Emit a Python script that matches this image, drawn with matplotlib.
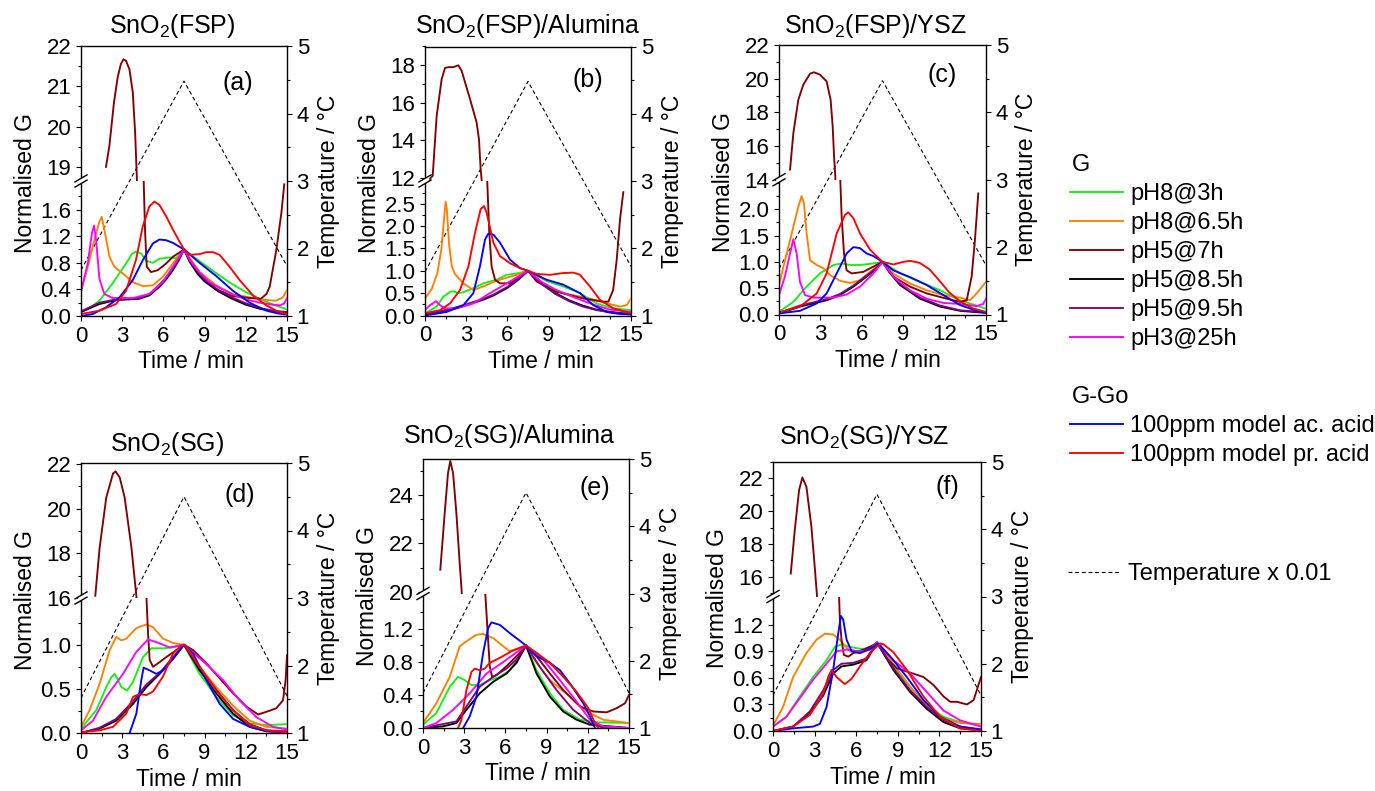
import matplotlib
matplotlib.use("Agg")
import matplotlib.pyplot as plt
from matplotlib.lines import Line2D
from matplotlib.patches import Polygon
from matplotlib.ticker import MultipleLocator, FixedLocator, FormatStrFormatter

plt.rcParams.update({
    "font.family": ["Liberation Sans", "DejaVu Sans"],
    "mathtext.fontset": "custom",
    "mathtext.rm": "Liberation Sans",
    "mathtext.it": "Liberation Sans:italic",
    "mathtext.default": "rm",
    "axes.linewidth": 1.0,
})

# ---------------------------------------------------------------- series
SERIES = ["pH8@3h", "pH8@6.5h", "pH5@7h", "pH5@8.5h", "pH5@9.5h", "pH3@25h",
          "100ppm model ac. acid", "100ppm model pr. acid"]
COLORS = ["#14f014", "#ff8000", "#800000", "#000000", "#800080", "#ff00ff",
          "#0000ff", "#ff0000"]

# temperature programme (x 0.01 degC) : time points and values per panel
TEMP_TIME = [0.0, 7.5, 15.0]
temp_fsp = [1.68, 4.48, 1.74]
temp_fsp_alumina = [1.65, 4.48, 1.73]
temp_fsp_ysz = [1.68, 4.47, 1.73]
temp_sg = [1.52, 4.50, 1.55]
temp_sg_alumina = [1.52, 4.50, 1.52]
temp_sg_ysz = [1.53, 4.52, 1.53]

# normalised conductance curves, (time / min, G) pairs
fsp = {
    "pH8@3h": [(0, 0.06), (0.7, 0.13), (1.34, 0.23), (2.3, 0.49), (3.28, 0.79), (3.7, 0.93), (4.0, 0.97),
               (4.38, 0.94), (4.74, 0.83), (5.23, 0.8), (5.71, 0.86), (6.44, 0.88), (6.93, 0.87), (7.5, 1.0),
               (8, 0.92), (9, 0.77), (10, 0.62), (11, 0.48), (12, 0.36), (13, 0.26), (14, 0.17), (15, 0.1)],
    "pH8@6.5h": [(0, 0.38), (0.49, 0.74), (0.97, 1.14), (1.34, 1.42), (1.51, 1.49), (1.7, 1.3), (2.07, 0.89),
                 (2.43, 0.74), (3.04, 0.64), (3.77, 0.51), (4.5, 0.45), (5.23, 0.46), (5.96, 0.59),
                 (6.69, 0.79), (7.5, 1.0), (8.63, 0.66), (9.85, 0.46), (11.06, 0.33), (12.28, 0.28),
                 (13.5, 0.24), (14.2, 0.23), (14.7, 0.28), (15, 0.39)],
    "pH5@7h": [(1.82, 19.0), (2.07, 19.53), (2.4, 20.6), (2.67, 21.22), (2.9, 21.55), (3.09, 21.67),
               (3.28, 21.63), (3.53, 21.42), (3.77, 20.85), (3.94, 19.86), (4.06, 18.8), (4.2, 16.0),
               (4.5, 2.5), (4.67, 1.25), (4.79, 0.74), (5.1, 0.66), (5.6, 0.69), (6.2, 0.79), (6.69, 0.89),
               (7.5, 1.0), (8.0, 0.82), (8.63, 0.64), (9.85, 0.4), (11.06, 0.3), (12.3, 0.27), (13.1, 0.26),
               (13.5, 0.33), (13.74, 0.44), (14.22, 0.99), (14.59, 1.55), (14.8, 1.98)],
    "pH5@8.5h": [(0, 0.06), (1.34, 0.18), (2.55, 0.24), (3.5, 0.25), (4.25, 0.26), (4.98, 0.31), (5.71, 0.44),
                 (6.2, 0.55), (6.69, 0.69), (7.1, 0.83), (7.5, 1.0), (7.9, 0.82), (8.5, 0.63), (9, 0.52),
                 (10, 0.37), (11, 0.26), (12, 0.17), (13, 0.11), (14, 0.07), (15, 0.05)],
    "pH5@9.5h": [(0, 0.07), (1.34, 0.2), (2.55, 0.25), (3.5, 0.26), (4.25, 0.27), (4.98, 0.33), (5.71, 0.47),
                 (6.2, 0.58), (6.69, 0.71), (7.1, 0.85), (7.5, 1.0), (7.9, 0.84), (8.5, 0.66), (9, 0.55),
                 (10, 0.39), (11, 0.28), (12, 0.19), (13, 0.12), (14, 0.08), (15, 0.06)],
    "pH3@25h": [(0, 0.36), (0.49, 0.79), (0.8, 1.25), (0.95, 1.36), (1.1, 1.14), (1.34, 0.56), (1.7, 0.33),
                (2.3, 0.27), (3.77, 0.27), (4.98, 0.33), (5.96, 0.51), (6.69, 0.74), (7.5, 1.0), (8.0, 0.82),
                (8.63, 0.66), (9.3, 0.52), (10, 0.43), (11, 0.33), (12, 0.25), (13, 0.2), (14, 0.17),
                (14.5, 0.16), (14.8, 0.19), (15, 0.27)],
    "100ppm model ac. acid": [(0, 0.0), (0.85, 0.03), (1.82, 0.13), (2.8, 0.28), (3.77, 0.54), (4.5, 0.84),
                              (5.23, 1.09), (5.71, 1.15), (6.2, 1.14), (6.69, 1.1), (7.1, 1.05), (7.5, 1.0),
                              (8.63, 0.8), (9.85, 0.6), (11.06, 0.38), (12.28, 0.2), (13.5, 0.08),
                              (14.3, 0.04), (15, 0.02)],
    "100ppm model pr. acid": [(0, 0.03), (1.34, 0.08), (2.55, 0.18), (3.28, 0.38), (4.0, 0.84), (4.5, 1.35),
                              (4.98, 1.65), (5.35, 1.72), (5.71, 1.67), (6.2, 1.5), (6.69, 1.3), (7.17, 1.12),
                              (7.5, 1.0), (7.9, 0.92), (8.63, 0.93), (9.12, 0.96), (9.6, 0.96), (10.09, 0.92),
                              (10.82, 0.74), (11.55, 0.54), (12.52, 0.31), (13.5, 0.16), (14.3, 0.07),
                              (15, 0.03)],
}

fsp_alumina = {
    "pH8@3h": [(0, 0.05), (0.85, 0.2), (1.33, 0.42), (1.82, 0.53), (2.1, 0.54), (2.4, 0.5), (2.79, 0.52),
               (3.52, 0.61), (4.25, 0.72), (5.22, 0.8), (5.95, 0.91), (6.67, 0.94), (7.5, 1.0), (8.86, 0.77),
               (10.07, 0.65), (11.29, 0.5), (12.5, 0.27), (13.71, 0.16), (15, 0.12)],
    "pH8@6.5h": [(0, 0.38), (0.5, 0.6), (0.9, 0.95), (1.2, 1.5), (1.4, 2.2), (1.5, 2.55), (1.6, 2.35),
                 (1.75, 1.6), (1.95, 1.1), (2.2, 0.92), (2.79, 0.72), (3.52, 0.57), (4.25, 0.65), (5.22, 0.78),
                 (6.67, 0.91), (7.5, 1.0), (8.86, 0.65), (10.07, 0.5), (12.01, 0.38), (12.99, 0.29),
                 (14.2, 0.2), (14.68, 0.23), (15, 0.38)],
    "pH5@7h": [(0.36, 11.95), (0.56, 12.12), (0.85, 15.3), (1.21, 17.25), (1.46, 17.86), (1.7, 17.9),
               (2.06, 17.9), (2.43, 18.0), (2.67, 17.7), (3.28, 16.2), (3.76, 14.95), (3.93, 14.06),
               (4.05, 12.5), (4.13, 11.86), (4.3, 8.0), (4.52, 3.1), (4.68, 1.85), (4.85, 1.1), (5.1, 0.8),
               (5.46, 0.72), (6.19, 0.72), (6.92, 0.87), (7.5, 1.0), (8.13, 0.76), (9.59, 0.53),
               (11.53, 0.38), (12.99, 0.31), (13.35, 0.31), (13.7, 0.57), (13.96, 1.25), (14.2, 2.15),
               (14.44, 2.76)],
    "pH5@8.5h": [(0, 0.02), (1, 0.08), (2, 0.14), (3, 0.23), (3.5, 0.28), (4.3, 0.36), (5, 0.45), (6, 0.62),
                 (6.8, 0.8), (7.5, 1.0), (8, 0.85), (8.5, 0.72), (9.5, 0.5), (10.5, 0.34), (11.5, 0.22),
                 (12.5, 0.13), (13.5, 0.08), (15, 0.03)],
    "pH5@9.5h": [(0, 0.03), (1, 0.09), (2, 0.16), (3, 0.25), (3.5, 0.3), (4.3, 0.38), (5, 0.47), (6, 0.64),
                 (6.8, 0.82), (7.5, 1.0), (8, 0.84), (8.5, 0.7), (9.5, 0.48), (10.5, 0.32), (11.5, 0.2),
                 (12.5, 0.12), (13.5, 0.07), (15, 0.03)],
    "pH3@25h": [(0, 0.12), (0.36, 0.23), (0.8, 0.32), (1.09, 0.23), (1.46, 0.16), (2.3, 0.16), (3.52, 0.27),
                (4.73, 0.5), (5.95, 0.72), (7.5, 1.0), (8.5, 0.75), (9.5, 0.58), (10.5, 0.45), (11.5, 0.33),
                (12.5, 0.22), (13.5, 0.13), (15, 0.08)],
    "100ppm model ac. acid": [(0, 0.0), (1.58, 0.08), (2.79, 0.23), (3.52, 0.5), (4.0, 1.1), (4.37, 1.7),
                              (4.61, 1.83), (4.98, 1.81), (5.46, 1.63), (6.19, 1.25), (6.92, 1.06), (7.5, 1.0),
                              (8.86, 0.8), (10.07, 0.69), (11.29, 0.5), (12.26, 0.23), (13.23, 0.08),
                              (14, 0.04), (15, 0.02)],
    "100ppm model pr. acid": [(0, 0.05), (1.09, 0.12), (1.82, 0.27), (2.55, 0.57), (3.16, 1.1), (3.64, 1.85),
                              (4.05, 2.38), (4.3, 2.45), (4.49, 2.3), (4.98, 1.63), (5.46, 1.33), (6.19, 1.17),
                              (6.92, 1.06), (7.5, 1.0), (8.13, 0.93), (9.1, 0.91), (10.07, 0.95), (10.8, 0.96),
                              (11.29, 0.91), (12.01, 0.65), (12.74, 0.35), (13.71, 0.16), (15, 0.05)],
}

fsp_ysz = {
    "pH8@3h": [(0, 0.05), (1.04, 0.24), (2.0, 0.53), (2.97, 0.78), (3.94, 0.94), (4.54, 0.97), (5.15, 0.94),
               (5.87, 0.94), (6.84, 0.97), (7.5, 1.0), (8.77, 0.78), (10.22, 0.62), (11.67, 0.46),
               (13.12, 0.27), (15, 0.11)],
    "pH8@6.5h": [(0, 0.56), (0.43, 1.03), (0.92, 1.54), (1.4, 2.05), (1.64, 2.25), (1.81, 2.11), (2.0, 1.54),
                 (2.25, 1.03), (2.73, 0.94), (3.21, 0.88), (3.7, 0.75), (4.42, 0.64), (5.15, 0.6), (5.87, 0.65),
                 (6.6, 0.81), (7.5, 1.0), (8.28, 0.78), (9.49, 0.59), (10.7, 0.46), (11.9, 0.37),
                 (13.12, 0.32), (13.84, 0.27), (14.32, 0.4), (15, 0.62)],
    "pH5@7h": [(0.8, 14.6), (1.04, 16.77), (1.4, 18.75), (1.76, 19.64), (2.25, 20.3), (2.54, 20.38),
               (2.97, 20.24), (3.45, 19.84), (3.74, 18.75), (3.89, 17.17), (3.99, 15.39), (4.08, 14.2),
               (4.2, 10.0), (4.42, 2.7), (4.54, 1.86), (4.71, 1.16), (4.9, 0.84), (5.27, 0.78), (6.11, 0.81),
               (6.84, 0.91), (7.5, 1.0), (8.28, 0.72), (9.49, 0.53), (10.7, 0.4), (12.15, 0.3), (13.12, 0.24),
               (13.6, 0.27), (13.96, 0.72), (14.2, 1.42), (14.44, 2.3)],
    "pH5@8.5h": [(0, 0.02), (1.52, 0.15), (3.45, 0.27), (4.42, 0.37), (5.39, 0.53), (6.35, 0.72), (7.0, 0.86),
                 (7.5, 1.0), (8.0, 0.8), (8.77, 0.56), (10.22, 0.3), (11.67, 0.15), (13.12, 0.07), (15, 0.03)],
    "pH5@9.5h": [(0, 0.03), (1.52, 0.17), (3.45, 0.29), (4.42, 0.39), (5.39, 0.55), (6.35, 0.74), (7.0, 0.87),
                 (7.5, 1.0), (8.0, 0.82), (8.77, 0.58), (10.22, 0.32), (11.67, 0.17), (13.12, 0.08), (15, 0.04)],
    "pH3@25h": [(0, 0.37), (0.43, 0.72), (0.8, 1.16), (1.04, 1.43), (1.28, 1.16), (1.52, 0.62), (1.88, 0.37),
                (2.49, 0.32), (3.94, 0.32), (4.9, 0.38), (5.87, 0.53), (6.84, 0.78), (7.5, 1.0), (8.28, 0.72),
                (9.49, 0.46), (10.7, 0.3), (11.9, 0.22), (13.12, 0.2), (14.32, 0.16), (14.8, 0.2), (15, 0.3)],
    "100ppm model ac. acid": [(0, 0.02), (1.52, 0.07), (2.73, 0.21), (3.45, 0.4), (4.18, 0.78), (4.9, 1.16),
                              (5.39, 1.28), (5.87, 1.26), (6.35, 1.16), (6.84, 1.11), (7.5, 1.0), (8.28, 0.84),
                              (9.49, 0.71), (10.7, 0.56), (11.9, 0.37), (13.12, 0.18), (14.32, 0.07),
                              (15, 0.03)],
    "100ppm model pr. acid": [(0, 0.04), (1.52, 0.15), (2.73, 0.4), (3.45, 0.78), (4.18, 1.54), (4.78, 1.89),
                              (5.02, 1.94), (5.39, 1.83), (5.87, 1.54), (6.6, 1.23), (7.5, 1.0), (8.3, 0.95),
                              (9.0, 1.0), (9.5, 1.02), (10.2, 0.98), (10.9, 0.86), (11.6, 0.65), (12.3, 0.43),
                              (13.1, 0.25), (14.1, 0.11), (15, 0.05)],
}

sg = {
    "pH8@3h": [(0, 0.05), (1.12, 0.26), (1.84, 0.52), (2.2, 0.63), (2.45, 0.67), (2.7, 0.6), (2.94, 0.52),
               (3.35, 0.48), (3.79, 0.58), (4.51, 0.86), (5.12, 0.96), (5.97, 0.96), (6.7, 0.97), (7.5, 1.0),
               (8.64, 0.67), (9.85, 0.41), (11.07, 0.2), (12.28, 0.11), (13.5, 0.09), (15, 0.1)],
    "pH8@6.5h": [(0, 0.07), (0.63, 0.26), (1.36, 0.56), (2.09, 0.94), (2.57, 1.09), (2.94, 1.05), (3.3, 1.07),
                 (4.03, 1.19), (4.76, 1.23), (5.24, 1.2), (5.97, 1.07), (6.7, 1.02), (7.5, 1.0), (8.64, 0.75),
                 (9.85, 0.52), (11.07, 0.31), (12.28, 0.14), (13.5, 0.07), (15, 0.05)],
    "pH5@7h": [(1.04, 16.1), (1.36, 18.27), (1.84, 20.5), (2.33, 21.58), (2.52, 21.67), (2.82, 21.4),
               (3.18, 20.5), (3.67, 18.27), (4.03, 16.1), (4.2, 14.0), (4.75, 1.6), (4.88, 1.13), (5.0, 0.83),
               (5.24, 0.75), (5.61, 0.79), (6.21, 0.86), (6.94, 0.94), (7.5, 1.0), (8.16, 0.94), (9.13, 0.79),
               (10.1, 0.62), (11.07, 0.45), (12.04, 0.3), (12.89, 0.21), (13.5, 0.24), (14.22, 0.28),
               (14.71, 0.37), (14.9, 0.6), (15, 0.88)],
    "pH5@8.5h": [(0, 0.0), (1.36, 0.05), (2.57, 0.14), (3.79, 0.33), (4.76, 0.52), (5.73, 0.67), (6.7, 0.84),
                 (7.5, 1.0), (8.64, 0.71), (9.85, 0.45), (11.07, 0.22), (12.28, 0.07), (13.5, 0.02), (15, 0.01)],
    "pH5@9.5h": [(0, 0.0), (1.36, 0.06), (2.57, 0.16), (3.79, 0.36), (4.76, 0.55), (5.73, 0.68), (6.7, 0.86),
                 (7.5, 1.0), (8.64, 0.74), (9.85, 0.49), (11.07, 0.26), (12.28, 0.1), (13.5, 0.03), (15, 0.02)],
    "pH3@25h": [(0, 0.03), (0.87, 0.14), (1.84, 0.41), (3.06, 0.67), (4.03, 0.92), (4.88, 1.06), (5.49, 1.03),
                (6.46, 0.97), (7.5, 1.0), (9.13, 0.78), (10.34, 0.6), (11.55, 0.37), (12.77, 0.18),
                (13.98, 0.07), (15, 0.04)],
    "100ppm model ac. acid": [(3.54, 0.0), (4.03, 0.22), (4.39, 0.6), (4.56, 0.74), (5.0, 0.71), (5.49, 0.67),
                              (5.97, 0.71), (6.7, 0.84), (7.5, 1.0), (8.16, 0.9), (9.13, 0.6), (10.1, 0.33),
                              (11.07, 0.16), (12.28, 0.07), (13.5, 0.02), (15, 0.01)],
    "100ppm model pr. acid": [(0, 0.01), (1.36, 0.03), (2.33, 0.07), (3.3, 0.22), (3.79, 0.41), (4.27, 0.44),
                              (4.76, 0.43), (5.24, 0.47), (5.97, 0.64), (6.7, 0.9), (7.3, 0.99), (7.57, 1.0),
                              (8.64, 0.75), (9.85, 0.48), (11.07, 0.26), (12.28, 0.09), (13.5, 0.03),
                              (15, 0.01)],
}

sg_alumina = {
    "pH8@3h": [(0, 0.04), (0.97, 0.18), (1.95, 0.5), (2.55, 0.62), (3.04, 0.58), (3.53, 0.52), (4.13, 0.52),
               (4.86, 0.58), (5.59, 0.62), (6.32, 0.7), (7.05, 0.87), (7.5, 1.0), (8.27, 0.7), (9.24, 0.42),
               (10.21, 0.22), (11.43, 0.1), (12.64, 0.07), (15, 0.06)],
    "pH8@6.5h": [(0, 0.06), (0.97, 0.3), (1.95, 0.62), (2.67, 0.99), (3.16, 1.05), (3.89, 1.13), (4.38, 1.14),
                 (5.11, 1.09), (5.84, 0.99), (6.32, 0.93), (7.5, 1.0), (8.27, 0.79), (9.24, 0.58),
                 (10.7, 0.38), (11.91, 0.2), (13.13, 0.1), (15, 0.06)],
    "pH5@7h": [(1.26, 20.92), (1.58, 23.25), (1.82, 24.9), (1.99, 25.4), (2.19, 24.9), (2.43, 23.25),
               (2.67, 21.2), (2.82, 20.0), (3.0, 17.0), (4.5, 1.7), (4.55, 1.59), (4.74, 1.07), (4.86, 0.75),
               (5.03, 0.62), (5.35, 0.64), (6.08, 0.75), (6.81, 0.87), (7.5, 1.0), (8.27, 0.87), (9.24, 0.66),
               (10.21, 0.46), (11.43, 0.26), (12.4, 0.2), (13.37, 0.19), (14.1, 0.24), (14.71, 0.3),
               (15, 0.4)],
    "pH5@8.5h": [(0, 0.0), (1.46, 0.02), (2.43, 0.06), (3.16, 0.22), (4.13, 0.42), (5.11, 0.56), (6.08, 0.66),
                 (6.81, 0.79), (7.5, 1.0), (8.27, 0.66), (9.24, 0.38), (10.21, 0.2), (11.18, 0.1),
                 (12.16, 0.04), (15, 0.0)],
    "pH5@9.5h": [(0, 0.0), (2.43, 0.08), (3.16, 0.26), (4.13, 0.5), (5.11, 0.62), (6.08, 0.72), (6.81, 0.83),
                 (7.5, 1.0), (8.51, 0.74), (9.72, 0.46), (10.94, 0.22), (12.16, 0.06), (13, 0.01), (15, 0.0)],
    "pH3@25h": [(0, 0.0), (0.97, 0.06), (2.19, 0.22), (3.4, 0.42), (4.62, 0.66), (5.84, 0.8), (7.5, 1.0),
                (8.75, 0.83), (9.97, 0.58), (11.18, 0.32), (12.16, 0.1), (13.13, 0.02), (15, 0.0)],
    "100ppm model ac. acid": [(2.92, 0.0), (3.4, 0.14), (3.89, 0.38), (4.38, 0.91), (4.74, 1.21), (4.98, 1.28),
                              (5.59, 1.25), (6.32, 1.15), (7.5, 1.0), (8.27, 0.87), (9.24, 0.79), (9.97, 0.7),
                              (10.7, 0.54), (11.67, 0.3), (12.16, 0.14), (12.52, 0.0)],
    "100ppm model pr. acid": [(2.55, 0.0), (2.8, 0.1), (3.16, 0.46), (3.53, 0.68), (3.77, 0.72), (4.13, 0.7),
                              (4.5, 0.72), (4.86, 0.79), (5.59, 0.85), (6.44, 0.93), (7.5, 1.0), (8.27, 0.91),
                              (9.24, 0.79), (10.21, 0.62), (11.18, 0.44), (12.04, 0.24), (12.52, 0.06),
                              (12.76, 0.0)],
}

sg_ysz = {
    "pH8@3h": [(0, 0.05), (0.96, 0.16), (1.93, 0.39), (2.89, 0.61), (3.86, 0.8), (4.46, 0.95), (4.94, 0.98),
               (5.55, 0.95), (6.27, 0.93), (6.99, 0.93), (7.5, 1.0), (8.68, 0.73), (9.89, 0.5), (11.09, 0.29),
               (12.3, 0.16), (13.5, 0.1), (15, 0.06)],
    "pH8@6.5h": [(0, 0.06), (0.72, 0.27), (1.45, 0.61), (2.41, 0.88), (3.13, 1.03), (3.74, 1.1), (4.34, 1.09),
                 (4.82, 1.03), (5.55, 0.9), (6.27, 0.88), (6.99, 0.92), (7.5, 1.0), (8.68, 0.76), (9.89, 0.5),
                 (11.09, 0.27), (12.3, 0.14), (13.5, 0.09), (15, 0.08)],
    "pH5@7h": [(1.28, 16.2), (1.57, 18.85), (1.88, 21.29), (2.12, 22.06), (2.41, 21.49), (2.77, 19.05),
               (3.01, 16.6), (3.16, 14.98), (3.4, 12.0), (4.75, 1.6), (4.82, 1.26), (4.94, 1.03), (5.11, 0.86),
               (5.43, 0.84), (5.79, 0.88), (6.51, 0.92), (7.23, 0.97), (7.5, 1.0), (8.2, 0.82), (8.92, 0.71),
               (9.89, 0.66), (10.85, 0.61), (11.57, 0.52), (12.3, 0.39), (12.78, 0.33), (13.26, 0.33),
               (13.99, 0.3), (14.47, 0.35), (15, 0.61)],
    "pH5@8.5h": [(0, 0.0), (1.45, 0.05), (2.65, 0.2), (3.62, 0.4), (4.34, 0.65), (4.94, 0.73), (5.79, 0.75),
                 (6.75, 0.8), (7.5, 1.0), (8.68, 0.69), (9.89, 0.44), (11.09, 0.25), (12.3, 0.1), (13.5, 0.03),
                 (15, 0.01)],
    "pH5@9.5h": [(0, 0.0), (1.45, 0.05), (2.65, 0.22), (3.62, 0.46), (4.34, 0.69), (4.94, 0.76), (5.79, 0.77),
                 (6.75, 0.82), (7.5, 1.0), (8.68, 0.71), (9.89, 0.46), (11.09, 0.27), (12.3, 0.12),
                 (13.5, 0.05), (15, 0.02)],
    "pH3@25h": [(0, 0.05), (0.96, 0.16), (1.93, 0.37), (2.89, 0.58), (3.86, 0.76), (4.58, 0.9), (5.31, 0.92),
                (6.27, 0.9), (6.99, 0.92), (7.5, 1.0), (8.68, 0.8), (9.89, 0.65), (11.09, 0.44), (12.3, 0.23),
                (13.5, 0.12), (15, 0.05)],
    "100ppm model ac. acid": [(0, 0.0), (1.45, 0.03), (2.89, 0.05), (3.38, 0.08), (3.86, 0.27), (4.34, 0.69),
                              (4.7, 1.1), (4.9, 1.3), (5.06, 1.26), (5.31, 1.03), (5.67, 0.9), (6.27, 0.88),
                              (6.99, 0.93), (7.6, 0.99), (8.68, 0.8), (9.65, 0.61), (10.85, 0.35),
                              (12.06, 0.16), (13.5, 0.05), (15, 0.01)],
    "100ppm model pr. acid": [(0, 0.0), (1.45, 0.05), (2.65, 0.18), (3.62, 0.42), (3.98, 0.61), (4.22, 0.69),
                              (4.58, 0.61), (5.18, 0.53), (5.67, 0.59), (6.27, 0.73), (6.99, 0.88),
                              (7.72, 0.99), (7.96, 0.98), (8.68, 0.89), (9.65, 0.69), (10.85, 0.39),
                              (12.06, 0.16), (13.5, 0.03), (15, 0.0)],
}

# ---------------------------------------------------------------- layout
W, H = 1375, 791
fig = plt.figure(figsize=(W / 100, H / 100), dpi=100)


def fx(px):
    return px / W


def fy(py):
    return 1 - py / H


TICK_FS = 16
LABEL_FS = 16.5
TITLE_FS = 18
LW = 1.35

PANELS = [
    dict(data=fsp, temp=temp_fsp, box=(81, 46, 206, 270), title=r"SnO$_2$(FSP)", title_xy=(172, 33),
         letter="(a)", letter_xy=(238, 83), xlabel_x=191,
         lo=(0, 2.03), lo_ticks=[0, 0.4, 0.8, 1.2, 1.6], lo_minor=0.2,
         hi=(18.65, 22), hi_ticks=[19, 20, 21, 22], hi_minor=0.5),
    dict(data=fsp_alumina, temp=temp_fsp_alumina, box=(425, 46.5, 206, 269), title=r"SnO$_2$(FSP)/Alumina",
         title_xy=(527.6, 33), letter="(b)", letter_xy=(588, 80), xlabel_x=541,
         lo=(0, 3.01), lo_ticks=[0, 0.5, 1.0, 1.5, 2.0, 2.5], lo_minor=0.25,
         hi=(11.84, 19.0), hi_ticks=[12, 14, 16, 18], hi_minor=1),
    dict(data=fsp_ysz, temp=temp_fsp_ysz, box=(779, 45, 207, 269.5), title=r"SnO$_2$(FSP)/YSZ",
         title_xy=(875.5, 33), letter="(c)", letter_xy=(942, 75), xlabel_x=887.5,
         lo=(0, 2.56), lo_ticks=[0, 0.5, 1.0, 1.5, 2.0], lo_minor=0.25,
         hi=(14.0, 22.0), hi_ticks=[14, 16, 18, 20, 22], hi_minor=1),
    dict(data=sg, temp=temp_sg, box=(81, 463, 206, 270), title=r"SnO$_2$(SG)", title_xy=(167, 450.7),
         letter="(d)", letter_xy=(240, 495), xlabel_x=189,
         lo=(0, 1.53), lo_ticks=[0, 0.5, 1.0], lo_minor=0.25,
         hi=(16.0, 22.05), hi_ticks=[16, 18, 20, 22], hi_minor=1),
    dict(data=sg_alumina, temp=temp_sg_alumina, box=(423, 459, 206, 269), title=r"SnO$_2$(SG)/Alumina",
         title_xy=(509.5, 442.7), letter="(e)", letter_xy=(595, 488), xlabel_x=537.5,
         lo=(0, 1.63), lo_ticks=[0, 0.4, 0.8, 1.2], lo_minor=0.2,
         hi=(19.94, 25.48), hi_ticks=[20, 22, 24], hi_minor=1),
    dict(data=sg_ysz, temp=temp_sg_ysz, box=(773, 462, 208, 269), title=r"SnO$_2$(SG)/YSZ",
         title_xy=(864, 444), letter="(f)", letter_xy=(947, 487), xlabel_x=882.5,
         lo=(0, 1.52), lo_ticks=[0, 0.3, 0.6, 0.9, 1.2], lo_minor=0.15,
         hi=(14.8, 23.0), hi_ticks=[16, 18, 20, 22], hi_minor=1),
]


def style_ticks(ax):
    ax.tick_params(which="both", direction="out", width=0.8, labelsize=TICK_FS)
    ax.tick_params(which="major", length=3.4)
    ax.tick_params(which="minor", length=1.9)


def draw_panel(p):
    left, top, width, height = p["box"]
    l, b, w, h = fx(left), fy(top + height), width / W, height / H

    # frame axes carrying time axis and temperature scale
    axT = fig.add_axes([l, b, w, h])
    axT.set_xlim(0, 15)
    axT.set_ylim(1, 5)
    axT.plot(TEMP_TIME, p["temp"], color="black", lw=0.8, ls=(0, (3.5, 2.5)))
    axT.spines["left"].set_visible(False)
    axT.yaxis.tick_right()
    axT.yaxis.set_major_locator(MultipleLocator(1))
    axT.yaxis.set_minor_locator(MultipleLocator(0.5))
    axT.yaxis.set_major_formatter(FormatStrFormatter("%d"))
    axT.xaxis.set_major_locator(MultipleLocator(3))
    axT.xaxis.set_minor_locator(MultipleLocator(1.5))
    axT.xaxis.set_major_formatter(FormatStrFormatter("%d"))
    style_ticks(axT)

    # broken conductance axis: lower and upper halves
    for key, yb in (("lo", b), ("hi", b + h / 2)):
        ax = fig.add_axes([l, yb, w, h / 2])
        ax.patch.set_visible(False)
        for s in ("top", "right", "bottom"):
            ax.spines[s].set_visible(False)
        ax.set_xlim(0, 15)
        ax.set_xticks([])
        ax.set_ylim(*p[key])
        ax.yaxis.set_major_locator(FixedLocator(p[key + "_ticks"]))
        ax.yaxis.set_minor_locator(MultipleLocator(p[key + "_minor"]))
        ax.yaxis.set_major_formatter(FormatStrFormatter("%.1f" if key == "lo" else "%d"))
        style_ticks(ax)
        for name, color in zip(SERIES, COLORS):
            t, g = zip(*p["data"][name])
            ax.plot(t, g, color=color, lw=LW, solid_joinstyle="round")

    # break symbol on the left spine
    x0, y0 = left, top + height / 2
    sx, sy, off = 6.0, 3.5, 2.6
    k = 3.2
    gap = Polygon([(fx(x0 - k), fy(y0 + k / sx * sy + off)), (fx(x0 + k), fy(y0 - k / sx * sy + off)),
                   (fx(x0 + k), fy(y0 - k / sx * sy - off)), (fx(x0 - k), fy(y0 + k / sx * sy - off))],
                  closed=True, transform=fig.transFigure, facecolor="white", edgecolor="none", zorder=5)
    fig.add_artist(gap)
    for d in (-off, off):
        fig.add_artist(Line2D([fx(x0 - sx), fx(x0 + sx)], [fy(y0 + sy - d), fy(y0 - sy - d)],
                              transform=fig.transFigure, color="black", lw=1.0, zorder=6))

    # texts
    fig.text(fx(p["title_xy"][0]), fy(p["title_xy"][1]), p["title"], ha="center", va="baseline",
             fontsize=TITLE_FS)
    fig.text(fx(p["letter_xy"][0]), fy(p["letter_xy"][1]), p["letter"], ha="center", va="center",
             fontsize=TITLE_FS)
    fig.text(fx(p["xlabel_x"]), fy(top + height + 46), "Time / min", ha="center", va="center",
             fontsize=LABEL_FS)
    fig.text(fx(left - 55), fy(top + height / 2 + 2), "Normalised G", ha="center", va="center",
             rotation=90, fontsize=LABEL_FS)
    fig.text(fx(left + width + 41), fy(top + height / 2), "Temperature / \u00b0C", ha="center",
             va="center", rotation=90, fontsize=LABEL_FS)


for p in PANELS:
    draw_panel(p)

# ---------------------------------------------------------------- legend
LEG_FS = 17
fig.text(fx(1072), fy(170.7), "G", ha="left", va="baseline", fontsize=LEG_FS)
rows_g = [192 + 29 * i for i in range(6)]
for y, name, color in zip(rows_g, SERIES[:6], COLORS[:6]):
    fig.add_artist(Line2D([fx(1070), fx(1123)], [fy(y), fy(y)], color=color, lw=LW))
    fig.text(fx(1130), fy(y + 8), name, ha="left", va="baseline", fontsize=LEG_FS)
fig.text(fx(1072), fy(402.7), "G-Go", ha="left", va="baseline", fontsize=LEG_FS)
for y, name, color in zip([424, 453], SERIES[6:], COLORS[6:]):
    fig.add_artist(Line2D([fx(1070), fx(1123)], [fy(y), fy(y)], color=color, lw=LW))
    fig.text(fx(1130), fy(y + 8), name, ha="left", va="baseline", fontsize=LEG_FS)
fig.add_artist(Line2D([fx(1068), fx(1120)], [fy(572), fy(572)], color="black", lw=0.8,
                      ls=(0, (3.5, 2.5))))
fig.text(fx(1128), fy(580), "Temperature x 0.01", ha="left", va="baseline", fontsize=LEG_FS)

fig.savefig("out.png", dpi=100)
